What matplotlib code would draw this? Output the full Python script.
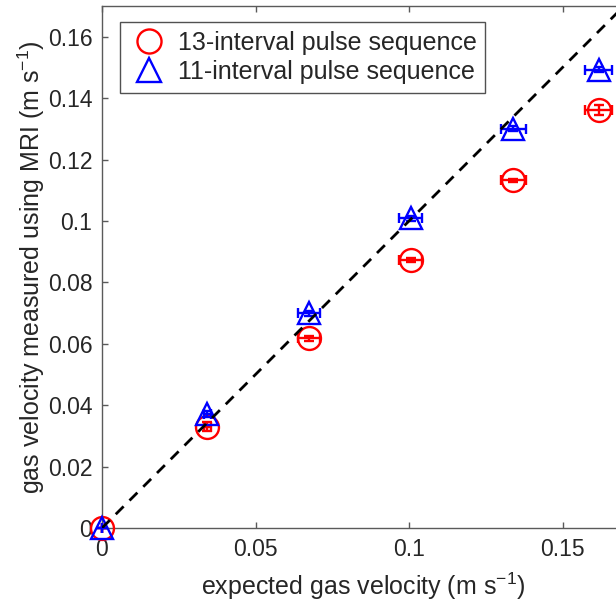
import numpy as np
import matplotlib.pyplot as plt

plt.rcParams['font.family'] = ['Liberation Sans', 'DejaVu Sans']
plt.rcParams['mathtext.fontset'] = 'custom'
plt.rcParams['mathtext.rm'] = 'Liberation Sans'
plt.rcParams['mathtext.it'] = 'Liberation Sans'

# expected gas velocity (m/s)
x_expected = [0, 0.0343, 0.0673, 0.1005, 0.1340, 0.1618]
x_err = [0, 0.0012, 0.0036, 0.0038, 0.0042, 0.0044]

# measured with 13-interval sequence
y_13 = [0, 0.0330, 0.0618, 0.0873, 0.1133, 0.1362]
y_13_err = [0, 0.0014, 0.0008, 0.0006, 0.0005, 0.0016]

# measured with 11-interval sequence
y_11 = [0, 0.0370, 0.0700, 0.1008, 0.1300, 0.1492]
y_11_err = [0, 0.0010, 0.0008, 0.0008, 0.0008, 0.0008]

identity = [0, 0.17]

xticks = [0, 0.05, 0.1, 0.15]
xtick_labels = ['0', '0.05', '0.1', '0.15']
yticks = [0, 0.02, 0.04, 0.06, 0.08, 0.1, 0.12, 0.14, 0.16]
ytick_labels = ['0', '0.02', '0.04', '0.06', '0.08', '0.1', '0.12', '0.14', '0.16']

txt = '#262626'
axc = '#5a5a5a'

fig = plt.figure(figsize=(6.16, 6.05), dpi=100)
ax = fig.add_axes([102/616, 77/605, 522/616, 522/605])

e1 = ax.errorbar(x_expected, y_13, xerr=x_err, yerr=y_13_err, fmt='o', ms=16.5,
                 mfc='none', mec='#ff0000', mew=1.7, ecolor='#ff0000', elinewidth=1.7,
                 capsize=3.5, capthick=1.7, label='13-interval pulse sequence', zorder=3)
e2 = ax.errorbar(x_expected, y_11, xerr=x_err, yerr=y_11_err, fmt='^', ms=16,
                 mfc='none', mec='#0000ff', mew=1.7, ecolor='#0000ff', elinewidth=1.7,
                 capsize=3.5, capthick=1.7, label='11-interval pulse sequence', zorder=4)
for e in (e1, e2):
    for art in [e[0], *e[1], *e[2]]:
        art.set_clip_on(False)

ax.plot(identity, identity, '--', color='black', lw=2, dashes=(4, 3), zorder=5)

ax.set_xlim(0, 0.17)
ax.set_ylim(0, 0.17)
ax.set_xticks(xticks)
ax.set_xticklabels(xtick_labels)
ax.set_yticks(yticks)
ax.set_yticklabels(ytick_labels)
ax.tick_params(direction='in', length=4, width=1, colors=axc, labelcolor=txt,
               labelsize=16.5, top=True, right=True, pad=7)
for s in ax.spines.values():
    s.set_color(axc)
    s.set_linewidth(1)

ax.set_xlabel('expected gas velocity (m s$^{-1}$)', fontsize=18, color=txt, labelpad=7)
ax.set_ylabel('gas velocity measured using MRI (m s$^{-1}$)', fontsize=18, color=txt, labelpad=0.5)

leg = ax.legend(handles=[e1[0], e2[0]], labels=['13-interval pulse sequence', '11-interval pulse sequence'],
                loc='upper left', bbox_to_anchor=(0.0345, 0.969), fontsize=18, frameon=True,
                fancybox=False, handletextpad=0.35, borderpad=0.35, labelspacing=0.2,
                handlelength=1.6, borderaxespad=0, markerscale=1.05)
leg.get_frame().set_edgecolor(txt)
leg.get_frame().set_linewidth(1)
for t in leg.get_texts():
    t.set_color(txt)

fig.savefig('out.png', dpi=100)
